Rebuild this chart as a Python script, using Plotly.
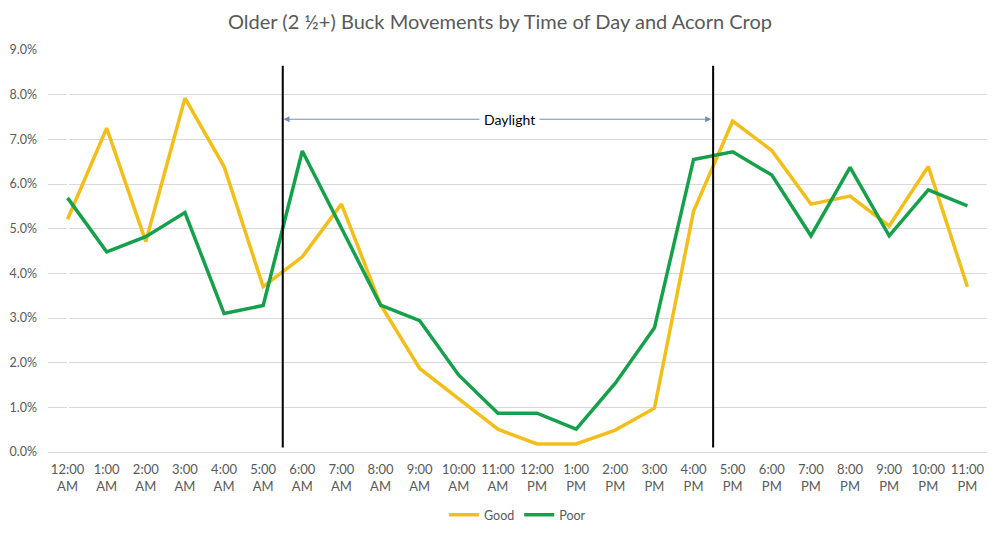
import plotly.graph_objects as go

hours = ["12:00<br>AM", "1:00<br>AM", "2:00<br>AM", "3:00<br>AM", "4:00<br>AM", "5:00<br>AM",
         "6:00<br>AM", "7:00<br>AM", "8:00<br>AM", "9:00<br>AM", "10:00<br>AM", "11:00<br>AM",
         "12:00<br>PM", "1:00<br>PM", "2:00<br>PM", "3:00<br>PM", "4:00<br>PM", "5:00<br>PM",
         "6:00<br>PM", "7:00<br>PM", "8:00<br>PM", "9:00<br>PM", "10:00<br>PM", "11:00<br>PM"]

good = [5.21, 7.25, 4.71, 7.92, 6.39, 3.70, 4.37, 5.55, 3.30, 1.87, 1.19, 0.51,
        0.18, 0.18, 0.49, 0.98, 5.39, 7.41, 6.75, 5.55, 5.73, 5.06, 6.39, 3.70]
poor = [5.69, 4.48, 4.82, 5.36, 3.10, 3.28, 6.74, 5.01, 3.29, 2.94, 1.72, 0.87,
        0.87, 0.51, 1.54, 2.78, 6.55, 6.72, 6.20, 4.84, 6.37, 4.84, 5.87, 5.51]

daylight_start = 5.5
daylight_end = 16.5
arrow_y = 7.45

x_idx = list(range(len(hours)))
font = "Lato, 'Open Sans', sans-serif"

fig = go.Figure()
fig.add_trace(go.Scatter(x=x_idx, y=good, mode="lines", name="Good",
                         line=dict(color="#F2BE1A", width=3.5)))
fig.add_trace(go.Scatter(x=x_idx, y=poor, mode="lines", name="Poor",
                         line=dict(color="#17A04B", width=3.5)))

for xv in (daylight_start, daylight_end):
    fig.add_shape(type="line", x0=xv, x1=xv, y0=0.1, y1=8.65, xref="x", yref="y",
                  line=dict(color="black", width=2))

mid = 11.3
for end in (daylight_start + 0.02, daylight_end - 0.05):
    fig.add_annotation(x=end, y=arrow_y, ax=mid, ay=arrow_y, xref="x", yref="y",
                       axref="x", ayref="y", text="", showarrow=True,
                       arrowhead=2, arrowsize=1.2, arrowwidth=1, arrowcolor="#6F8AC0")
fig.add_annotation(x=mid, y=arrow_y, xref="x", yref="y", text="Daylight", showarrow=False,
                   bgcolor="white", borderpad=4,
                   font=dict(family=font, size=14, color="black"))

fig.update_layout(
    width=1000, height=533,
    paper_bgcolor="white", plot_bgcolor="white",
    margin=dict(l=48, r=13, t=50, b=81, autoexpand=False),
    title=dict(text="Older (2 ½+) Buck Movements by Time of Day and Acorn Crop",
               x=0.5, xanchor="center", y=0.958, yanchor="middle",
               font=dict(family=font, size=20, color="#595959")),
    font=dict(family=font, size=12, color="#595959"),
    legend=dict(orientation="h", x=0.5, xanchor="center", y=-0.157, yanchor="middle",
                font=dict(family=font, size=12.5, color="#595959")),
    showlegend=True,
)
fig.update_xaxes(tickmode="array", tickvals=x_idx, ticktext=hours, range=[-0.5, 23.5],
                 showgrid=False, showline=True, linecolor="#D9D9D9", linewidth=1,
                 ticks="", tickangle=0, automargin=False, ticklabelstandoff=5,
                 tickfont=dict(size=13, color="#595959"))
fig.update_yaxes(range=[0, 9], dtick=1, tickformat=".1f", ticksuffix="%",
                 showgrid=True, gridcolor="#D9D9D9", gridwidth=1, zeroline=False,
                 ticks="", automargin=False, ticklabelstandoff=10,
                 tickfont=dict(size=12.5, color="#595959"))

fig.write_html("out.html", config={"displayModeBar": False},
               post_script="document.body.style.margin='0';")
